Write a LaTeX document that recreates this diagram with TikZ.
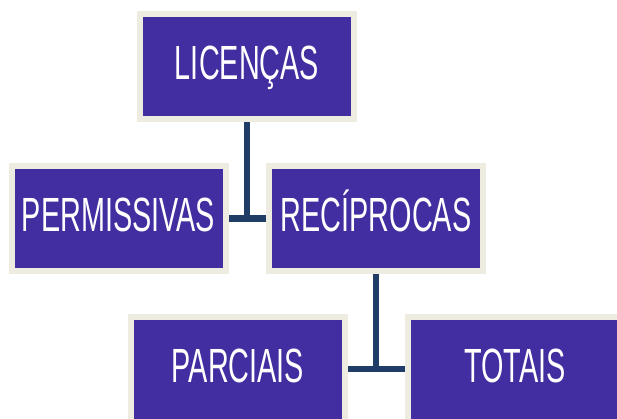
\documentclass[tikz,border=0pt]{standalone}
\usepackage{fontspec}
\setmainfont[FakeStretch=0.6]{Liberation Sans}
\usetikzlibrary{backgrounds}

\definecolor{boxfill}{HTML}{422EA0}
\definecolor{boxrim}{HTML}{EEEBE0}
\definecolor{linkcol}{HTML}{1F3D66}

\begin{document}
\begin{tikzpicture}[x=1pt,y=-1pt,
    caixa/.style={draw=boxrim, line width=6pt, fill=boxfill, text=white,
      minimum width=214pt, minimum height=105pt, inner sep=0pt,
      text height=34pt, text depth=7pt,
      font=\fontsize{48}{50}\selectfont},
    liga/.style={draw=linkcol, line width=6.5pt}]

    \useasboundingbox (0,0) rectangle (617,419);

    % topo
    \node[caixa] (lic) at (247,66.5) {LICENÇAS};

    % segundo nivel
    \node[caixa] (perm) at (118.5,218.5) {PERMISSIVAS};
    \node[caixa] (rec) at (376,218.5) {RECÍPROCAS};

    % terceiro nivel
    \node[caixa] (parc) at (238,369) {PARCIAIS};
    \node[caixa] (tot) at (515,369) {TOTAIS};

    % ligacoes
    \begin{pgfonlayer}{background}
      \draw[liga] (lic.south) -- (lic.south |- perm.east);
      \draw[liga] (perm.east) -- (rec.west);
      \draw[liga] (rec.south) -- (rec.south |- parc.east);
      \draw[liga] (parc.east) -- (tot.west);
    \end{pgfonlayer}

\end{tikzpicture}
\end{document}
